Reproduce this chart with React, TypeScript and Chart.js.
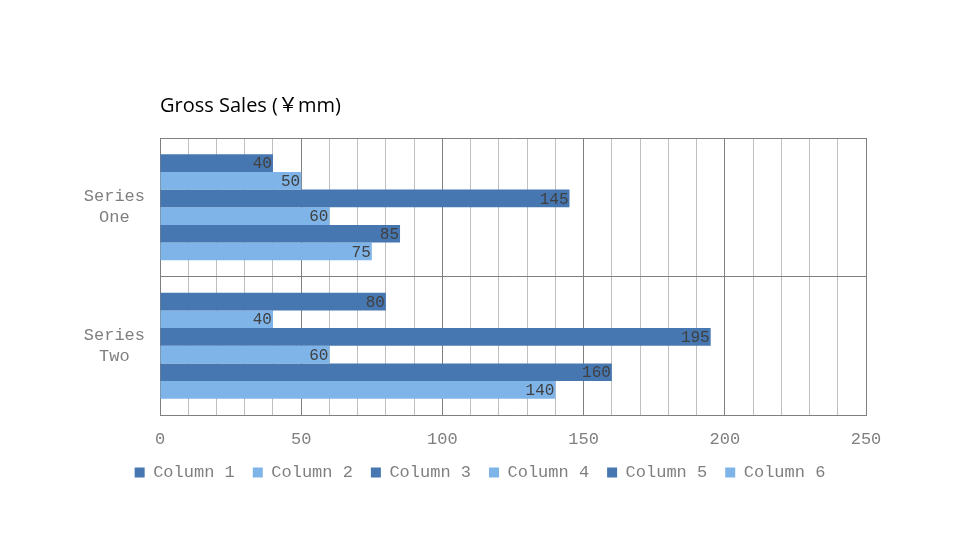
import React, { useEffect, useRef } from "react";
import { Chart, registerables } from "chart.js";

Chart.register(...registerables);

const titleText = "Gross Sales (￥mm)";
const categories = [["Series", "One"], ["Series", "Two"]];
const seriesNames = ["Column 1", "Column 2", "Column 3", "Column 4", "Column 5", "Column 6"];
const column1 = [40, 80];
const column2 = [50, 40];
const column3 = [145, 195];
const column4 = [60, 60];
const column5 = [85, 160];
const column6 = [75, 140];
const seriesValues = [column1, column2, column3, column4, column5, column6];
const xMin = 0;
const xMax = 250;
const xStep = 10;
const xLabelStep = 50;

const DARK = "#4677B1";
const LIGHT = "#7EB4E8";
const MONO = '"Liberation Mono", "Courier New", monospace';

const titlePlugin = {
  id: "customTitle",
  afterDraw(chart: any) {
    const ctx = chart.ctx;
    ctx.save();
    ctx.font = '20px "Open Sans", "Noto Sans CJK SC", sans-serif';
    ctx.fillStyle = "#000000";
    ctx.textAlign = "left";
    ctx.textBaseline = "middle";
    ctx.fillText(titleText, chart.chartArea.left, 106);
    ctx.restore();
  },
};

const valueLabelPlugin = {
  id: "valueLabels",
  afterDatasetsDraw(chart: any) {
    const ctx = chart.ctx;
    ctx.save();
    ctx.font = "16px " + MONO;
    ctx.fillStyle = "#404040";
    ctx.textAlign = "right";
    ctx.textBaseline = "middle";
    chart.data.datasets.forEach((ds: any, i: number) => {
      const meta = chart.getDatasetMeta(i);
      meta.data.forEach((el: any, j: number) => {
        ctx.fillText(String(ds.data[j]), el.x - 1, el.y + 1);
      });
    });
    ctx.restore();
  },
};

export default function App() {
  const ref = useRef<HTMLCanvasElement | null>(null);
  useEffect(() => {
    if (!ref.current) return;
    const chart = new Chart(ref.current, {
      type: "bar",
      data: {
        labels: categories as any,
        datasets: seriesNames.map((name, i) => ({
          label: name,
          data: seriesValues[i],
          backgroundColor: i % 2 === 0 ? DARK : LIGHT,
          borderWidth: 0,
          barPercentage: 1,
          categoryPercentage: 0.765,
        })),
      },
      options: {
        indexAxis: "y",
        responsive: true,
        maintainAspectRatio: false,
        animation: false,
        layout: { padding: { top: 138, right: 0, left: 0, bottom: 49 } },
        plugins: {
          title: { display: false },
          tooltip: { enabled: false },
          legend: {
            position: "bottom",
            labels: {
              boxWidth: 10,
              boxHeight: 10,
              padding: 18,
              color: "#7f7f7f",
              font: { family: MONO, size: 17 },
            },
          },
        },
        scales: {
          x: {
            min: xMin,
            max: xMax,
            afterFit: (s: any) => {
              s.height = 31;
            },
            ticks: {
              stepSize: xStep,
              autoSkip: false,
              maxRotation: 0,
              padding: 14,
              color: "#7f7f7f",
              font: { family: MONO, size: 17 },
              callback: (v: any) => (Number(v) % xLabelStep === 0 ? String(v) : ""),
            },
            grid: {
              drawTicks: false,
              color: (c: any) => (c.tick && c.tick.value % xLabelStep === 0 ? "#7f7f7f" : "#bfbfbf"),
              lineWidth: 1,
            },
            border: { color: "#7f7f7f" },
          },
          y: {
            afterFit: (s: any) => {
              s.width = 160;
            },
            ticks: {
              crossAlign: "center",
              padding: 15,
              color: "#7f7f7f",
              font: { family: MONO, size: 17, lineHeight: 1.25 },
            },
            grid: { drawTicks: false, color: "#7f7f7f", offset: true },
            border: { color: "#7f7f7f" },
          },
          yRightSpace: {
            type: "category",
            position: "right",
            labels: categories as any,
            afterFit: (s: any) => {
              s.width = 94;
            },
            ticks: { display: false },
            grid: { display: false, drawTicks: false },
            border: { display: false },
          },
        },
      },
      plugins: [titlePlugin, valueLabelPlugin],
    } as any);
    return () => chart.destroy();
  }, []);
  return (
    <div style={{ position: "absolute", left: 0, top: 0, width: 960, height: 540, background: "#ffffff" }}>
      <canvas ref={ref} />
    </div>
  );
}
